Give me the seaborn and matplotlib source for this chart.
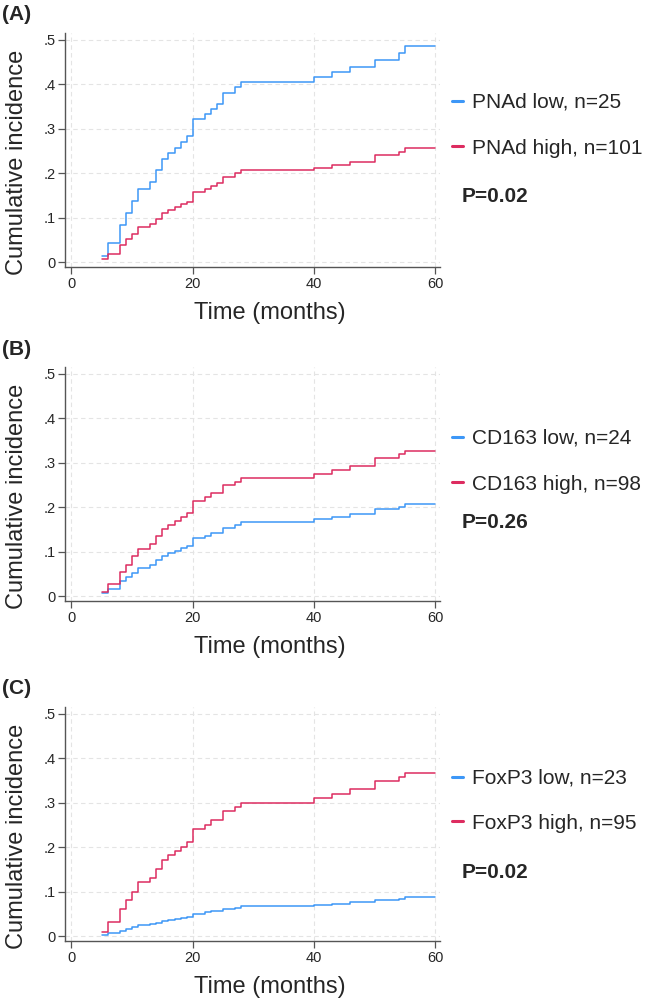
import matplotlib
matplotlib.use('Agg')
import matplotlib.pyplot as plt
import seaborn as sns
import pandas as pd

# shared event times (months); last point closes the final step at 60
TIMES = [5, 6, 8, 9, 10, 11, 13, 14, 15, 16, 17, 18, 19, 20, 22, 23, 24, 25,
         27, 28, 40, 43, 46, 50, 54, 55, 60]

PNAD_LOW = [0.014, 0.042, 0.083, 0.111, 0.138, 0.165, 0.179, 0.206, 0.231, 0.245,
            0.257, 0.270, 0.283, 0.321, 0.332, 0.344, 0.356, 0.381, 0.393, 0.404,
            0.415, 0.427, 0.438, 0.455, 0.470, 0.485, 0.485]
PNAD_HIGH = [0.007, 0.019, 0.038, 0.052, 0.064, 0.078, 0.085, 0.097, 0.110, 0.117,
             0.123, 0.130, 0.136, 0.157, 0.163, 0.170, 0.177, 0.191, 0.199, 0.206,
             0.212, 0.218, 0.225, 0.241, 0.248, 0.257, 0.257]
CD163_LOW = [0.006, 0.016, 0.034, 0.043, 0.052, 0.063, 0.070, 0.080, 0.091, 0.097,
             0.102, 0.108, 0.113, 0.131, 0.136, 0.142, 0.142, 0.154, 0.160, 0.166,
             0.172, 0.178, 0.184, 0.196, 0.201, 0.207, 0.207]
CD163_HIGH = [0.009, 0.027, 0.055, 0.070, 0.089, 0.106, 0.116, 0.134, 0.151, 0.160,
              0.169, 0.178, 0.187, 0.213, 0.222, 0.231, 0.231, 0.249, 0.257, 0.266,
              0.275, 0.284, 0.292, 0.311, 0.319, 0.327, 0.327]
FOXP3_LOW = [0.002, 0.007, 0.012, 0.016, 0.020, 0.025, 0.027, 0.030, 0.034, 0.037,
             0.039, 0.041, 0.043, 0.050, 0.053, 0.056, 0.056, 0.061, 0.064, 0.067,
             0.070, 0.073, 0.076, 0.081, 0.083, 0.087, 0.087]
FOXP3_HIGH = [0.010, 0.031, 0.061, 0.081, 0.100, 0.121, 0.130, 0.151, 0.171, 0.181,
              0.190, 0.201, 0.211, 0.240, 0.250, 0.260, 0.260, 0.280, 0.290, 0.300,
              0.310, 0.320, 0.330, 0.348, 0.357, 0.367, 0.367]

PANELS = [
    ('(A)', ['PNAd low, n=25', 'PNAd high, n=101'], PNAD_LOW, PNAD_HIGH, 'P=0.02'),
    ('(B)', ['CD163 low, n=24', 'CD163 high, n=98'], CD163_LOW, CD163_HIGH, 'P=0.26'),
    ('(C)', ['FoxP3 low, n=23', 'FoxP3 high, n=95'], FOXP3_LOW, FOXP3_HIGH, 'P=0.02'),
]

X_TICKS = [0, 20, 40, 60]
Y_TICKS = [0, 0.1, 0.2, 0.3, 0.4, 0.5]
Y_TICKLABELS = ['0', '.1', '.2', '.3', '.4', '.5']

BLUE = '#3d97f7'
RED = '#dd2c60'

# pixel layout (figure is 650 x 1001)
W, H = 650, 1001
ZERO_Y = [262, 596, 936]      # pixel row of y=0 in each panel
LEG_Y = [(102, 147, 197), (438, 483, 523), (778, 822, 872)]
LABEL_Y = [14, 349, 689]


def main():
    sns.set_style('white')
    plt.rcParams['font.family'] = ['Liberation Sans', 'DejaVu Sans']

    fig = plt.figure(figsize=(W / 100, H / 100), dpi=100)
    px_per_unit = 444.8  # pixels per 1.0 of cumulative incidence
    ylo, yhi = -0.012, 0.514
    xlo, xhi = -1.07, 60.8

    for i, (tag, labels, low, high, pval) in enumerate(PANELS):
        shift = ZERO_Y[i] - ZERO_Y[0]
        bottom_px = ZERO_Y[i] - ylo * px_per_unit
        height_px = (yhi - ylo) * px_per_unit
        ax = fig.add_axes([65 / W, 1 - bottom_px / H, 375 / W, height_px / H])

        df = pd.DataFrame({
            'time': TIMES * 2,
            'cif': low + high,
            'group': [labels[0]] * len(TIMES) + [labels[1]] * len(TIMES),
        })
        sns.lineplot(data=df, x='time', y='cif', hue='group',
                     palette=[BLUE, RED], drawstyle='steps-post',
                     estimator=None, linewidth=1.1, legend=False, ax=ax)

        ax.set_xlim(xlo, xhi)
        ax.set_ylim(ylo, yhi)
        ax.set_xticks(X_TICKS)
        ax.set_yticks(Y_TICKS)
        ax.set_yticklabels(Y_TICKLABELS)
        ax.tick_params(axis='both', labelsize=10.5, length=5, width=0.9,
                       color='#555555', direction='out', pad=2, left=True, bottom=True)
        ax.grid(True, color='#e4e4e4', linestyle=(0, (4, 3)), linewidth=0.8)
        for side in ['top', 'right']:
            ax.spines[side].set_visible(False)
        for side in ['left', 'bottom']:
            ax.spines[side].set_color('#555555')
            ax.spines[side].set_linewidth(1.0)

        ax.set_xlabel('Time (months)', fontsize=17)
        ax.set_ylabel('Cumulative incidence', fontsize=17)
        ax.xaxis.set_label_coords((270 - 65) / 375, -(313 + shift - bottom_px) / height_px)
        ax.xaxis.label.set_va('center')
        ax.yaxis.set_label_coords(-(65 - 17) / 375, (bottom_px - 162 - shift) / height_px)
        ax.yaxis.label.set_va('center')

        fig.text(2 / W, 1 - LABEL_Y[i] / H, tag, fontsize=15, fontweight='bold',
                 va='center', ha='left')

        y1, y2, yp = LEG_Y[i]
        handles = ax.lines[:2]
        row = y2 - y1
        leg = ax.legend(handles, labels, loc='upper left',
                        bbox_to_anchor=(452 / W, 1 - (y1 - 9) / H),
                        bbox_transform=fig.transFigure, frameon=False,
                        fontsize=15, handlelength=0.55, handletextpad=0.4,
                        borderpad=0, borderaxespad=0,
                        labelspacing=(row - 20.8 * 1.17) / 20.8 + 0.29)
        for lh in leg.get_lines():
            lh.set_linewidth(2.2)
        fig.text(462 / W, 1 - yp / H, pval, fontsize=15, fontweight='bold',
                 va='center', ha='left')

    fig.savefig('out.png', dpi=100)


if __name__ == '__main__':
    main()
